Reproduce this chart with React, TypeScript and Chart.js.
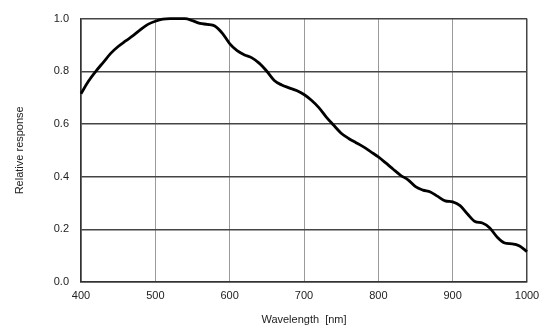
import React, { useEffect, useRef } from "react";
import { Chart, registerables } from "chart.js";

Chart.register(...registerables);

const wavelengths = [
  400, 410, 420, 430, 440, 450, 460, 470, 480, 490,
  500, 510, 520, 530, 540, 550, 560, 570, 580, 590,
  600, 610, 620, 630, 640, 650, 660, 670, 680, 690,
  700, 710, 720, 730, 740, 750, 760, 770, 780, 790,
  800, 810, 820, 830, 840, 850, 860, 870, 880, 890,
  900, 910, 920, 930, 940, 950, 960, 970, 980, 990, 1000,
];

const response = [
  0.715, 0.762, 0.8, 0.834, 0.868, 0.894, 0.915, 0.935, 0.958, 0.978,
  0.99, 0.998, 1.0, 1.0, 1.0, 0.992, 0.982, 0.978, 0.972, 0.945,
  0.905, 0.878, 0.862, 0.851, 0.83, 0.8, 0.765, 0.748, 0.737, 0.727,
  0.712, 0.69, 0.662, 0.626, 0.595, 0.565, 0.545, 0.529, 0.513, 0.494,
  0.475, 0.452, 0.428, 0.405, 0.388, 0.362, 0.349, 0.342, 0.325, 0.308,
  0.304, 0.29, 0.258, 0.23, 0.224, 0.205, 0.17, 0.148, 0.145, 0.137, 0.115,
];

const xTitle = "Wavelength  [nm]";
const yTitle = "Relative response";

export default function App() {
  const ref = useRef<HTMLCanvasElement | null>(null);

  useEffect(() => {
    if (!ref.current) return;
    const font = { family: "'Liberation Sans', Arial, sans-serif", size: 11 };
    const chart = new Chart(ref.current, {
      type: "line",
      data: {
        datasets: [
          {
            data: wavelengths.map((w, i) => ({ x: w, y: response[i] })),
            borderColor: "#000",
            borderWidth: 2.8,
            pointRadius: 0,
            tension: 0.4,
            cubicInterpolationMode: "monotone",
            fill: false,
            clip: false as any,
          },
        ],
      },
      options: {
        animation: false,
        responsive: false,
        maintainAspectRatio: false,
        layout: { padding: { left: 0, right: 27, top: 18, bottom: 0 } },
        plugins: { legend: { display: false }, tooltip: { enabled: false } },
        scales: {
          x: {
            type: "linear",
            min: 400,
            max: 1000,
            border: { display: true, color: "#333", width: 1.5 },
            grid: {
              drawTicks: false,
              color: (ctx: any) =>
                ctx.tick && (ctx.tick.value === 400 || ctx.tick.value === 1000) ? "#444" : "#9a9a9a",
              lineWidth: (ctx: any) =>
                ctx.tick && (ctx.tick.value === 400 || ctx.tick.value === 1000) ? 1.5 : 1,
            },
            ticks: {
              stepSize: 100,
              padding: 7,
              color: "#222",
              font,
              maxRotation: 0,
              callback: (v: any) => String(v),
            },
            title: { display: true, text: xTitle, color: "#222", font, padding: { top: 5, bottom: 4 } },
            afterFit: (s: any) => {
              s.height = 49;
            },
          },
          y: {
            min: 0,
            max: 1,
            border: { display: true, color: "#333", width: 1.5 },
            grid: { drawTicks: false, color: "#444", lineWidth: 1.5 },
            ticks: {
              stepSize: 0.2,
              padding: 12,
              color: "#222",
              font,
              callback: (v: any) => Number(v).toFixed(1),
            },
            title: { display: true, text: yTitle, color: "#222", font, padding: { top: 13, bottom: 0 } },
            afterFit: (s: any) => {
              s.width = 81;
            },
          },
        },
      },
    });
    return () => chart.destroy();
  }, []);

  return (
    <div style={{ position: "fixed", left: 0, top: 0, width: 554, height: 331, background: "#fff" }}>
      <canvas ref={ref} width={554} height={331} style={{ width: 554, height: 331 }} />
    </div>
  );
}
